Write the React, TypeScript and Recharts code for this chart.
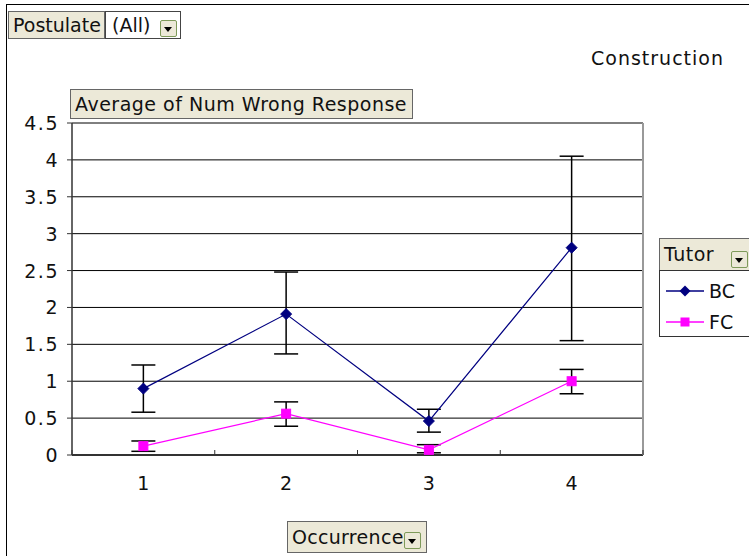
import React from 'react';
import { ComposedChart, Line, XAxis, YAxis, CartesianGrid, ErrorBar } from 'recharts';

const categories = ['1', '2', '3', '4'];
const bcMean = [0.9, 1.91, 0.46, 2.81];
const bcLow = [0.58, 1.37, 0.31, 1.55];
const bcHigh = [1.22, 2.48, 0.62, 4.05];
const fcMean = [0.12, 0.56, 0.07, 1.0];
const fcLow = [0.05, 0.39, 0.03, 0.83];
const fcHigh = [0.19, 0.72, 0.14, 1.16];
const yTicks = [0, 0.5, 1, 1.5, 2, 2.5, 3, 3.5, 4, 4.5];

const data = categories.map((c, i) => ({
  cat: c,
  BC: bcMean[i],
  bcErr: [bcMean[i] - bcLow[i], bcHigh[i] - bcMean[i]],
  FC: fcMean[i],
  fcErr: [fcMean[i] - fcLow[i], fcHigh[i] - fcMean[i]],
}));

const W = 749;
const H = 556;
const Y_W = 72;
const R_W = 1;
const M_RIGHT = 105;
const PLOT_W = W - Y_W - R_W - M_RIGHT;
const HALF_BAND = PLOT_W / categories.length / 2;
const FONT = '"DejaVu Sans", Verdana, sans-serif';
const BEIGE = '#ECE9D8';

const XTick = (props: any) => {
  const { x, y, payload, index } = props;
  return (
    <g>
      <line x1={x - HALF_BAND} x2={x - HALF_BAND} y1={y - 5} y2={y} stroke="#333" strokeWidth={1} />
      {index === categories.length - 1 && (
        <line x1={x + HALF_BAND} x2={x + HALF_BAND} y1={y - 5} y2={y} stroke="#333" strokeWidth={1} />
      )}
      <text x={x} y={y + 35} textAnchor="middle" fontFamily={FONT} fontSize={19} fill="#111">
        {payload.value}
      </text>
    </g>
  );
};

const YTick = (props: any) => {
  const { x, y, payload } = props;
  return (
    <text x={x + 2} y={y} dy={7} textAnchor="end" fontFamily={FONT} fontSize={19} fill="#111" letterSpacing={1.5}>
      {String(payload.value)}
    </text>
  );
};

const Diamond = (props: any) => {
  const { cx, cy } = props;
  if (cx == null || cy == null) return null;
  const r = 5.5;
  return <polygon points={`${cx},${cy - r} ${cx + r},${cy} ${cx},${cy + r} ${cx - r},${cy}`} fill="#000080" stroke="#000080" />;
};

const Square = (props: any) => {
  const { cx, cy } = props;
  if (cx == null || cy == null) return null;
  const r = 4.5;
  return <rect x={cx - r} y={cy - r} width={r * 2} height={r * 2} fill="#FF00FF" stroke="#FF00FF" />;
};

const DropBtn = ({ left, top }: { left: number; top: number }) => (
  <div
    style={{
      position: 'absolute',
      left,
      top,
      width: 17,
      height: 17,
      border: '1px solid #7E9A5A',
      borderRadius: 2,
      background: BEIGE,
      boxSizing: 'border-box',
    }}
  >
    <div
      style={{
        position: 'absolute',
        left: 3,
        top: 6,
        width: 0,
        height: 0,
        borderLeft: '4.5px solid transparent',
        borderRight: '4.5px solid transparent',
        borderTop: '5px solid #000',
      }}
    />
  </div>
);

const btn = (left: number, top: number, width: number, height: number, bg = BEIGE, ls = 0): React.CSSProperties => ({
  position: 'absolute',
  left,
  top,
  width,
  height,
  background: bg,
  border: '1px solid #666',
  boxSizing: 'border-box',
  fontFamily: FONT,
  fontSize: 19,
  letterSpacing: ls,
  color: '#111',
  lineHeight: `${height - 2}px`,
  paddingLeft: 4,
  whiteSpace: 'nowrap',
  overflow: 'hidden',
});

export default function App() {
  return (
    <div style={{ position: 'absolute', left: 0, top: 0, width: W, height: H, background: '#fff', overflow: 'hidden' }}>
      <div style={{ position: 'absolute', left: 6, top: 4, width: W, height: H, borderTop: '1px solid #000', borderLeft: '1px solid #000' }} />
      <div style={{ position: 'absolute', left: 0, top: 0 }}>
        <ComposedChart width={W} height={H} data={data} margin={{ top: 123, right: M_RIGHT, bottom: 0, left: 0 }}>
          <CartesianGrid vertical={false} stroke="#000" strokeWidth={1} />
          <XAxis
            dataKey="cat"
            height={101}
            tickLine={false}
            tickSize={0}
            tickMargin={0}
            padding={{ left: HALF_BAND, right: HALF_BAND }}
            axisLine={{ stroke: '#333', strokeWidth: 2 }}
            tick={<XTick />}
            interval={0}
          />
          <XAxis xAxisId="top" dataKey="cat" orientation="top" height={0} tick={false} tickLine={false} axisLine={{ stroke: '#999', strokeWidth: 1.5 }} />
          <YAxis
            domain={[0, 4.5]}
            ticks={yTicks}
            width={Y_W}
            tickSize={5}
            tickMargin={10}
            tickLine={{ stroke: '#333' }}
            axisLine={{ stroke: '#333', strokeWidth: 1.5 }}
            tick={<YTick />}
            interval={0}
          />
          <YAxis yAxisId="right" orientation="right" width={R_W} domain={[0, 4.5]} tick={false} tickLine={false} axisLine={{ stroke: '#999', strokeWidth: 2 }} />
          <Line dataKey="BC" stroke="#000080" strokeWidth={1.2} dot={<Diamond />} isAnimationActive={false}>
            <ErrorBar dataKey="bcErr" width={12} stroke="#000" strokeWidth={1.5} direction="y" isAnimationActive={false} />
          </Line>
          <Line dataKey="FC" stroke="#FF00FF" strokeWidth={1.2} dot={<Square />} isAnimationActive={false}>
            <ErrorBar dataKey="fcErr" width={12} stroke="#000" strokeWidth={1.5} direction="y" isAnimationActive={false} />
          </Line>
        </ComposedChart>
      </div>

      <div style={btn(8, 11, 97, 28)}>Postulate</div>
      <div style={{ ...btn(105, 11, 76, 28, '#fff'), border: '1px solid #444', paddingLeft: 6 }}>(All)</div>
      <DropBtn left={160} top={20} />

      <div style={{ position: 'absolute', left: 591, top: 47, fontFamily: FONT, fontSize: 19, letterSpacing: 1, color: '#111', whiteSpace: 'nowrap' }}>
        Construction
      </div>

      <div style={btn(70, 89, 343, 30, BEIGE, 0.5)}>Average of Num Wrong Response</div>

      <div style={btn(659, 238, 95, 33, BEIGE, 0.5)}>Tutor</div>
      <DropBtn left={731} top={251} />
      <div style={{ position: 'absolute', left: 659, top: 270, width: 95, height: 67, border: '1px solid #333', boxSizing: 'border-box', background: '#fff' }}>
        <svg width={95} height={65} style={{ position: 'absolute', left: 0, top: 0 }}>
          <line x1={6} x2={44} y1={20} y2={20} stroke="#000080" strokeWidth={1.5} />
          <polygon points="25,14.5 30.5,20 25,25.5 19.5,20" fill="#000080" />
          <line x1={6} x2={44} y1={51} y2={51} stroke="#FF00FF" strokeWidth={1.5} />
          <rect x={20.5} y={46.5} width={9} height={9} fill="#FF00FF" />
          <text x={49} y={27} fontFamily={FONT} fontSize={19} fill="#111">BC</text>
          <text x={49} y={58} fontFamily={FONT} fontSize={19} fill="#111">FC</text>
        </svg>
      </div>

      <div style={btn(287, 521, 140, 32, BEIGE, 0.3)}>Occurrence</div>
      <DropBtn left={404} top={532} />
    </div>
  );
}
